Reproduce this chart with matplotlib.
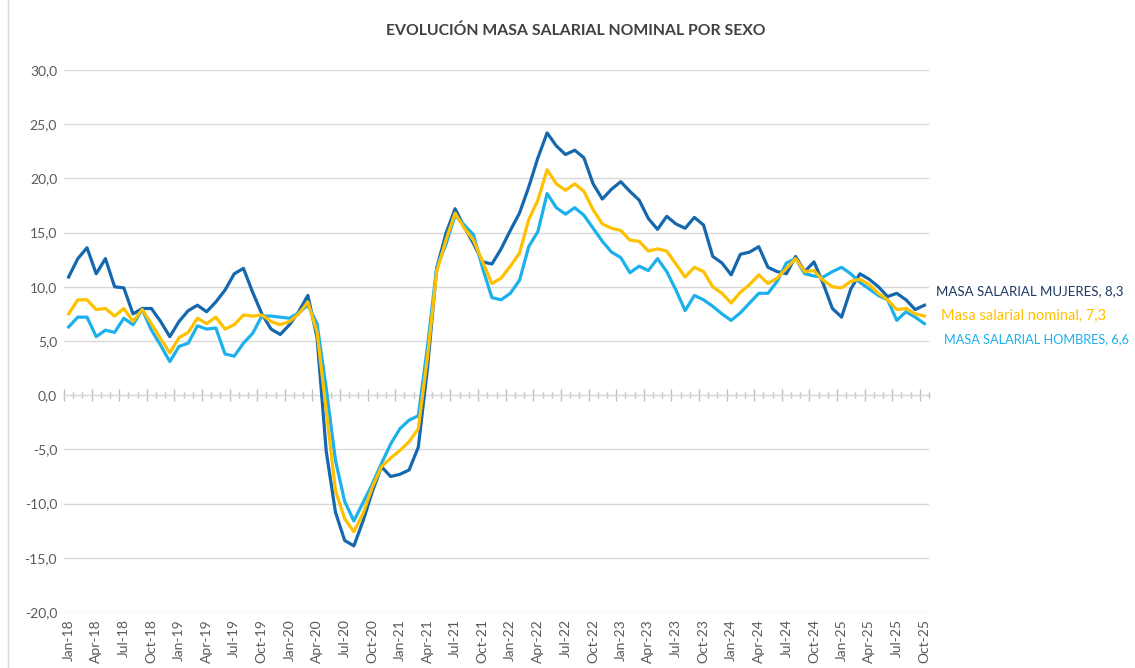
import matplotlib
matplotlib.use('Agg')
import matplotlib.pyplot as plt
from matplotlib.ticker import FixedLocator, FuncFormatter
from matplotlib.lines import Line2D

plt.rcParams['font.family'] = ['Lato', 'DejaVu Sans']

# ---------------- data ----------------
tick_labels = ['Jan-18', 'Apr-18', 'Jul-18', 'Oct-18', 'Jan-19', 'Apr-19', 'Jul-19', 'Oct-19',
               'Jan-20', 'Apr-20', 'Jul-20', 'Oct-20', 'Jan-21', 'Apr-21', 'Jul-21', 'Oct-21',
               'Jan-22', 'Apr-22', 'Jul-22', 'Oct-22', 'Jan-23', 'Apr-23', 'Jul-23', 'Oct-23',
               'Jan-24', 'Apr-24', 'Jul-24', 'Oct-24', 'Jan-25', 'Apr-25', 'Jul-25', 'Oct-25']

mujeres = [10.9, 12.6, 13.6, 11.2, 12.6, 10.0, 9.9, 7.5, 8.0, 8.0,
           6.8, 5.4, 6.8, 7.8, 8.3, 7.7, 8.6, 9.7, 11.2, 11.7,
           9.5, 7.5, 6.1, 5.6, 6.5, 7.7, 9.2, 5.3, -5.2, -10.8,
           -13.4, -13.9, -11.6, -8.9, -6.6, -7.5, -7.3, -6.9, -4.8, 2.5,
           11.7, 14.9, 17.2, 15.5, 14.0, 12.3, 12.1, 13.5, 15.2, 16.8,
           19.2, 21.9, 24.2, 23.0, 22.2, 22.6, 21.9, 19.5, 18.1, 19.0,
           19.7, 18.8, 18.0, 16.3, 15.3, 16.5, 15.8, 15.4, 16.4, 15.7,
           12.8, 12.2, 11.1, 13.0, 13.2, 13.7, 11.8, 11.4, 11.2, 12.8,
           11.4, 12.3, 10.3, 8.0, 7.2, 9.8, 11.2, 10.7, 10.0, 9.1,
           9.4, 8.8, 7.9, 8.3]

nominal = [7.5, 8.8, 8.8, 7.9, 8.0, 7.3, 8.0, 6.8, 7.9, 6.6,
           5.2, 3.9, 5.3, 5.8, 7.1, 6.6, 7.2, 6.1, 6.5, 7.4,
           7.3, 7.4, 6.8, 6.5, 6.8, 7.5, 8.6, 5.8, -1.4, -8.8,
           -11.4, -12.6, -10.9, -8.5, -6.6, -5.8, -5.1, -4.3, -3.1, 3.5,
           11.4, 14.3, 16.8, 15.4, 14.3, 12.3, 10.3, 10.8, 11.9, 13.1,
           16.2, 18.0, 20.8, 19.5, 18.9, 19.5, 18.8, 17.1, 15.8, 15.4,
           15.2, 14.3, 14.2, 13.3, 13.5, 13.3, 12.1, 10.9, 11.8, 11.4,
           10.0, 9.4, 8.5, 9.5, 10.2, 11.1, 10.3, 10.8, 11.7, 12.6,
           11.4, 11.5, 10.6, 10.0, 9.9, 10.5, 10.7, 10.2, 9.4, 8.8,
           7.9, 8.0, 7.5, 7.3]

hombres = [6.3, 7.2, 7.2, 5.4, 6.0, 5.8, 7.1, 6.5, 7.9, 6.0,
           4.6, 3.1, 4.5, 4.8, 6.4, 6.1, 6.2, 3.8, 3.6, 4.8,
           5.7, 7.3, 7.3, 7.2, 7.1, 7.6, 8.3, 6.6, 0.6, -6.0,
           -9.8, -11.6, -9.9, -8.2, -6.3, -4.5, -3.1, -2.3, -1.9, 4.5,
           11.8, 13.9, 16.6, 15.7, 14.8, 11.7, 9.0, 8.8, 9.4, 10.6,
           13.7, 15.1, 18.6, 17.3, 16.7, 17.3, 16.6, 15.4, 14.2, 13.2,
           12.7, 11.3, 11.9, 11.5, 12.6, 11.4, 9.7, 7.8, 9.2, 8.8,
           8.2, 7.5, 6.9, 7.6, 8.5, 9.4, 9.4, 10.5, 12.2, 12.6,
           11.2, 11.0, 10.9, 11.4, 11.8, 11.2, 10.4, 9.8, 9.2, 8.8,
           6.9, 7.7, 7.2, 6.6]

title = 'EVOLUCIÓN MASA SALARIAL NOMINAL POR SEXO'
name_mujeres = 'MASA SALARIAL MUJERES'
name_nominal = 'Masa salarial nominal'
name_hombres = 'MASA SALARIAL HOMBRES'

# ---------------- styling ----------------
c_muj = '#1567AE'
c_nom = '#FFC000'
c_hom = '#1CB0EC'
grid_c = '#D9D9D9'
txt_c = '#595959'


def fmt(v):
    return f'{v:.1f}'.replace('.', ',')


W, H = 1135, 668
fig = plt.figure(figsize=(W / 100, H / 100), dpi=100)
ax = fig.add_axes([64 / W, 1 - 612 / H, (929 - 64) / W, (612 - 70) / H])

n = len(mujeres)
x = list(range(n))
lw = 2.3
ax.plot(x, mujeres, color=c_muj, lw=lw, zorder=3)
ax.plot(x, hombres, color=c_hom, lw=lw, zorder=4)
ax.plot(x, nominal, color=c_nom, lw=lw, zorder=5)

ax.set_xlim(-0.5, n - 0.5)
ax.set_ylim(-20, 30)
ax.set_yticks(range(-20, 31, 5))
ax.yaxis.set_major_formatter(FuncFormatter(lambda v, p: fmt(v)))
ax.grid(axis='y', color=grid_c, lw=1, zorder=0)
ax.grid(axis='x', visible=False)
for s in ax.spines.values():
    s.set_visible(False)
ax.tick_params(axis='y', length=0, labelsize=10, colors=txt_c, pad=5)

ax.set_xticks(range(0, n, 3))
ax.set_xticklabels(tick_labels, rotation=90, fontsize=10, color=txt_c)
ax.tick_params(axis='x', length=0, pad=5)

# horizontal category axis at y = 0 with tick marks between categories
loc0 = (0 - (-20)) / 50
sec = ax.secondary_xaxis(loc0)
sec.set_xticks([i - 0.5 for i in range(0, n + 1, 3)])
sec.set_xticklabels([])
sec.xaxis.set_minor_locator(FixedLocator([i - 0.5 for i in range(n + 1)]))
sec.tick_params(which='major', direction='inout', length=9, color='#BFBFBF', width=1)
sec.tick_params(which='minor', direction='inout', length=5, color='#BFBFBF', width=1)
sec.spines['bottom'].set_color('#BFBFBF')
for k in ('top', 'left', 'right'):
    if k in sec.spines:
        sec.spines[k].set_visible(False)

# end labels
ax.annotate(f'{name_mujeres}, {fmt(mujeres[-1])}', xy=(n - 1, mujeres[-1]),
            xytext=(8, 10), textcoords='offset points', ha='left', va='center',
            fontsize=9.5, color='#1F3864', annotation_clip=False)
ax.annotate(f'{name_nominal}, {fmt(nominal[-1])}', xy=(n - 1, nominal[-1]),
            xytext=(12, 0), textcoords='offset points', ha='left', va='center',
            fontsize=10.5, color=c_nom, annotation_clip=False)
ax.annotate(f'{name_hombres}, {fmt(hombres[-1])}', xy=(n - 1, hombres[-1]),
            xytext=(14, -11), textcoords='offset points', ha='left', va='center',
            fontsize=9.2, color=c_hom, annotation_clip=False)

fig.text(576 / W, 1 - 31 / H, title, ha='center', va='center', fontsize=11.3,
         fontweight='bold', color='#404040')

fig.add_artist(Line2D([8 / W, 8 / W], [0, 1], color=grid_c, lw=1))

fig.savefig('out.png', dpi=100)
